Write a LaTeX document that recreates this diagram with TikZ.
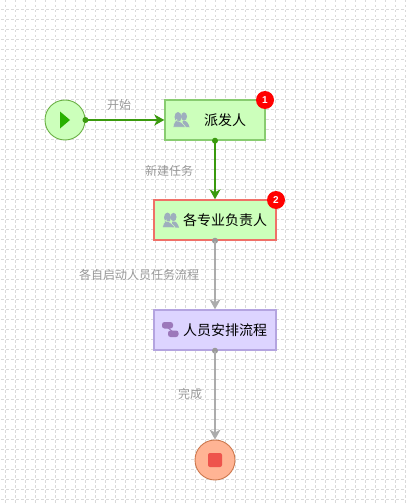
\documentclass[tikz,border=0pt]{standalone}
\usepackage{fontspec}
\setmainfont{Liberation Sans}
\newfontfamily\cjk{Noto Sans CJK SC}
\usetikzlibrary{arrows.meta}
\definecolor{gridc}{HTML}{DADADA}
\definecolor{grn}{HTML}{3A9A0E}
\definecolor{gry}{HTML}{ACACAC}
\definecolor{dotgry}{HTML}{999999}
\definecolor{lblc}{HTML}{999999}
\definecolor{startline}{RGB}{106,176,68}
\definecolor{lightgreen}{RGB}{204,255,187}
\definecolor{playc}{RGB}{40,176,0}
\definecolor{displine}{RGB}{136,204,112}
\definecolor{leadline}{RGB}{240,112,104}
\definecolor{lilac}{RGB}{221,212,255}
\definecolor{lilacline}{RGB}{180,164,224}
\definecolor{endline}{RGB}{204,119,76}
\definecolor{endfill}{RGB}{255,180,148}
\definecolor{stopc}{RGB}{238,84,76}
\definecolor{peoplec}{RGB}{158,174,190}
\definecolor{subc}{RGB}{156,120,186}
\tikzset{
  x=1pt,y=-1pt,
  gridline/.style={gridc,line width=1pt,dash pattern=on 2.5pt off 2.5pt},
  taskbox/.style={rectangle,minimum width=100pt,minimum height=40pt,inner sep=0pt,line width=1.4pt},
  evt/.style={circle,minimum size=40pt,inner sep=0pt,line width=0.9pt},
  flow/.style={line width=2.2pt,-{Stealth[length=10pt,width=11pt,inset=3pt]}},
  lbl/.style={font=\cjk\fontsize{12}{14}\selectfont,text=lblc,inner sep=0pt},
  ttl/.style={font=\cjk\fontsize{14}{16}\selectfont,text=black,inner sep=0pt},
  badge/.style={circle,fill=red,minimum size=18pt,inner sep=0pt,text=white,font=\bfseries\fontsize{10}{12}\selectfont},
  dotg/.style={circle,fill=grn,minimum size=6pt,inner sep=0pt},
  dotc/.style={circle,fill=dotgry,minimum size=6pt,inner sep=0pt},
}
\newcommand{\peopleicon}[1]{%
  \fill[peoplec] (#1) ++(3.5,-3) circle[x radius=3,y radius=4.2];
  \fill[peoplec] (#1) ++(2,7.5) -- ++(0,-6) -- ++(3,0) .. controls +(2,0) and +(3,3) .. ++(3,6) -- cycle;
  \fill[peoplec] (#1) ++(-2.5,-2.5) circle[x radius=3.5,y radius=5];
  \fill[peoplec,draw=lightgreen,line width=0.5pt] (#1) ++(-7.5,7.5) .. controls +(0,-3) and +(1,-5) .. ++(4,-6) -- ++(2,0) .. controls +(3,1) and +(5,3) .. ++(5,6) -- cycle;
}
\begin{document}
\begin{tikzpicture}
\useasboundingbox (0,0) rectangle (406,503);
\fill[white] (0,0) rectangle (406,503);
\foreach \k in {0,...,40} \draw[gridline] ({5.5+10*\k},0) -- ({5.5+10*\k},503);
\foreach \k in {0,...,49} \draw[gridline] (1,{9.5+10*\k}) -- (406,{9.5+10*\k});

\node[evt,draw=startline,fill=lightgreen] (start) at (65,120) {};
\fill[playc] (60,111.5) -- (70,120) -- (60,128.5) -- cycle;

\node[taskbox,fill=lightgreen,draw=displine] (disp) at (215,120) {};
\node[taskbox,fill=lightgreen,draw=leadline,minimum width=122pt] (lead) at (215,220) {};
\node[taskbox,fill=lilac,draw=lilacline,minimum width=122pt] (plan) at (215,330) {};
\node[evt,draw=endline,fill=endfill] (finish) at (215,460) {};
\fill[stopc,rounded corners=2pt] (208,453) rectangle (222,467);

\peopleicon{180.5,119.5}
\peopleicon{170,220}
\draw[subc,line width=1pt] (167,327) -- (173,332);
\fill[subc,rounded corners=2.5pt] (162,322) rectangle (173,328.5);
\fill[subc,rounded corners=2.5pt] (168,330.5) rectangle (178.5,337);

\node[ttl] (t1) at (225,120) {派发人};
\node[ttl] (t2) at (225,220.5) {各专业负责人};
\node[ttl] (t3) at (225,330.5) {人员安排流程};

\node[badge] (b1) at (265,100) {1};
\node[badge] (b2) at (276,200) {2};

\node[dotg] (d1) at (start.east) {};
\node[dotg] (d2) at (disp.south) {};
\node[dotc] (d3) at (lead.south) {};
\node[dotc] (d4) at (plan.south) {};

\draw[flow,grn] (d1.center) -- (disp.west);
\draw[flow,grn] (d2.center) -- (lead.north);
\draw[flow,gry] (d3.center) -- (plan.north);
\draw[flow,gry] (d4.center) -- (finish.north);

\node[lbl] (l1) at (119,104.5) {开始};
\node[lbl] (l2) at (169,170.5) {新建任务};
\node[lbl] (l3) at (139,274.5) {各自启动人员任务流程};
\node[lbl] (l4) at (190,393.5) {完成};
\end{tikzpicture}
\end{document}
